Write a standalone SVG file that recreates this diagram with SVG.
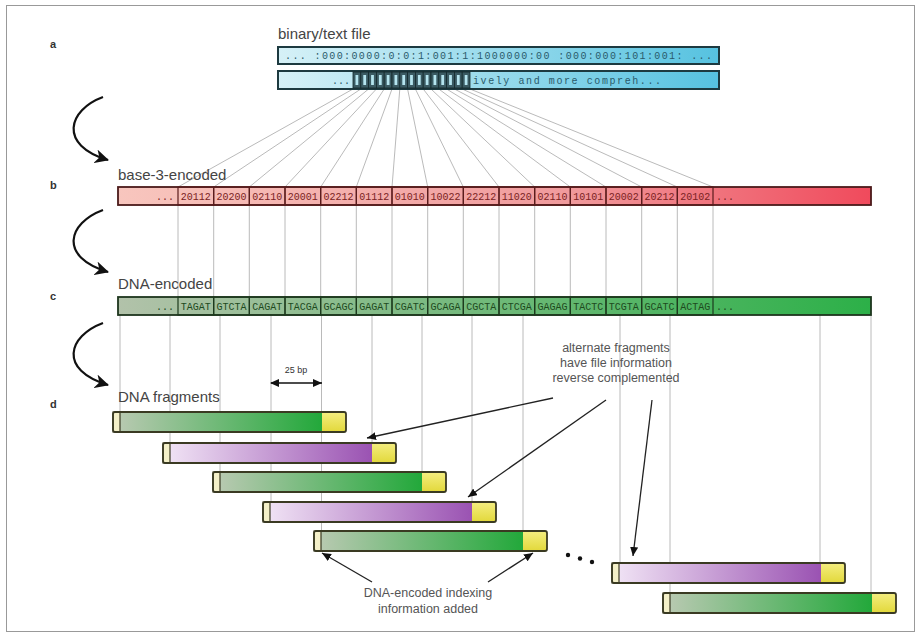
<svg xmlns="http://www.w3.org/2000/svg" width="921" height="636" viewBox="0 0 921 636">
<defs>
<linearGradient id="gBlue" x1="0" y1="0" x2="1" y2="0"><stop offset="0" stop-color="#d6f1f7"/><stop offset="1" stop-color="#56c2e0"/></linearGradient>
<linearGradient id="gRed" x1="0" y1="0" x2="1" y2="0"><stop offset="0" stop-color="#f8c6be"/><stop offset="0.6" stop-color="#f09a9c"/><stop offset="1" stop-color="#f04a5c"/></linearGradient>
<linearGradient id="gDna" x1="0" y1="0" x2="1" y2="0"><stop offset="0" stop-color="#b2c2aa"/><stop offset="1" stop-color="#2cb048"/></linearGradient>
<linearGradient id="gGreen" x1="0" y1="0" x2="1" y2="0"><stop offset="0" stop-color="#bccab4"/><stop offset="0.9" stop-color="#22a83a"/></linearGradient>
<linearGradient id="gPurple" x1="0" y1="0" x2="1" y2="0"><stop offset="0" stop-color="#f2e6f6"/><stop offset="0.9" stop-color="#9a52b2"/></linearGradient>
<linearGradient id="gYel" x1="0" y1="0" x2="0" y2="1"><stop offset="0" stop-color="#f4ee80"/><stop offset="1" stop-color="#e2d83a"/></linearGradient>
<marker id="bigHead" markerUnits="userSpaceOnUse" markerWidth="16" markerHeight="14" refX="13" refY="7" orient="auto"><path d="M0,0 L14,7 L0,14 L4,7 Z" fill="#111"/></marker>
<marker id="head" markerUnits="userSpaceOnUse" markerWidth="10" markerHeight="8" refX="9" refY="4" orient="auto"><path d="M0,0 L9,4 L0,8 Z" fill="#111"/></marker>
<marker id="headStart" markerUnits="userSpaceOnUse" markerWidth="10" markerHeight="8" refX="1" refY="4" orient="auto"><path d="M9,0 L0,4 L9,8 Z" fill="#111"/></marker>
</defs>
<style>
.lbl{font-family:"Liberation Sans",Arial,sans-serif;font-size:15px;fill:#444}
.let{font-family:"Liberation Sans",Arial,sans-serif;font-size:11px;font-weight:bold;fill:#333}
.note{font-family:"Liberation Sans",Arial,sans-serif;font-size:12.5px;fill:#555;text-anchor:middle}
.mono{font-family:"Liberation Mono","Courier New",monospace;font-size:10px}
.bt{fill:#7a2222;text-anchor:middle}
.ct{fill:#1e4a1e;text-anchor:middle}
.thin{stroke:#a8a8a8;stroke-width:0.8;fill:none}
.cell{fill:none;stroke-width:1.2}
.fo{fill:none;stroke:#3a3a22;stroke-width:1.8}
.idx{fill:#f4f0c8;stroke:#3a3a22;stroke-width:1.2}
.yel{fill:url(#gYel)}
.curve{fill:none;stroke:#111;stroke-width:2.2}
.arr{fill:none;stroke:#222;stroke-width:1.3}
</style>
<rect x="6.5" y="5.5" width="908" height="626" fill="#fff" stroke="#999" stroke-width="1"/>

<g id="panel-labels">
<text class="let" x="50" y="48">a</text>
<text class="let" x="50" y="189">b</text>
<text class="let" x="50" y="300">c</text>
<text class="let" x="50" y="408">d</text>
</g>

<g id="connectors">
<!-- fan lines from text cells to base-3 cells -->
<g class="thin">
<line x1="353" y1="89" x2="178" y2="187"/><line x1="360.8" y1="89" x2="213.7" y2="187"/><line x1="368.6" y1="89" x2="249.3" y2="187"/><line x1="376.4" y1="89" x2="285" y2="187"/><line x1="384.2" y1="89" x2="320.7" y2="187"/><line x1="392" y1="89" x2="356.3" y2="187"/><line x1="399.8" y1="89" x2="392" y2="187"/><line x1="407.6" y1="89" x2="427.7" y2="187"/><line x1="415.4" y1="89" x2="463.3" y2="187"/><line x1="423.2" y1="89" x2="499" y2="187"/><line x1="431" y1="89" x2="534.7" y2="187"/><line x1="438.8" y1="89" x2="570.3" y2="187"/><line x1="446.6" y1="89" x2="606" y2="187"/><line x1="454.4" y1="89" x2="641.7" y2="187"/><line x1="462.2" y1="89" x2="677.3" y2="187"/><line x1="470" y1="89" x2="713" y2="187"/>
</g>
<!-- base-3 to DNA -->
<g class="thin">
<line x1="178" y1="205" x2="178" y2="297"/><line x1="213.7" y1="205" x2="213.7" y2="297"/><line x1="249.3" y1="205" x2="249.3" y2="297"/><line x1="285" y1="205" x2="285" y2="297"/><line x1="320.7" y1="205" x2="320.7" y2="297"/><line x1="356.3" y1="205" x2="356.3" y2="297"/><line x1="392" y1="205" x2="392" y2="297"/><line x1="427.7" y1="205" x2="427.7" y2="297"/><line x1="463.3" y1="205" x2="463.3" y2="297"/><line x1="499" y1="205" x2="499" y2="297"/><line x1="534.7" y1="205" x2="534.7" y2="297"/><line x1="570.3" y1="205" x2="570.3" y2="297"/><line x1="606" y1="205" x2="606" y2="297"/><line x1="641.7" y1="205" x2="641.7" y2="297"/><line x1="677.3" y1="205" x2="677.3" y2="297"/><line x1="713" y1="205" x2="713" y2="297"/>
</g>
<!-- DNA to fragments -->
<g class="thin">
<line x1="120" y1="315" x2="120" y2="412"/><line x1="170" y1="315" x2="170" y2="443"/><line x1="220" y1="315" x2="220" y2="472"/><line x1="271" y1="315" x2="271" y2="502"/><line x1="321.5" y1="315" x2="321.5" y2="531"/><line x1="372" y1="315" x2="372" y2="443"/><line x1="422" y1="315" x2="422" y2="472"/><line x1="472" y1="315" x2="472" y2="502"/><line x1="523" y1="315" x2="523" y2="531"/><line x1="620" y1="315" x2="620" y2="563"/><line x1="670" y1="315" x2="670" y2="593"/><line x1="820" y1="315" x2="820" y2="563"/><line x1="871" y1="315" x2="871" y2="593"/>
</g>
<!-- step arrows -->
<path class="curve" d="M103,97 C68,110 58,145 108,160" marker-end="url(#bigHead)"/>
<path class="curve" d="M103,210 C68,223 58,257 108,272" marker-end="url(#bigHead)"/>
<path class="curve" d="M103,323 C68,336 58,370 108,385" marker-end="url(#bigHead)"/>
<!-- 25 bp -->
<line x1="271" y1="383" x2="322" y2="383" stroke="#111" stroke-width="1.5" marker-start="url(#headStart)" marker-end="url(#head)"/>
<!-- annotation arrows -->
<line class="arr" x1="553" y1="398" x2="367" y2="438" marker-end="url(#head)"/>
<line class="arr" x1="606" y1="400" x2="468" y2="497" marker-end="url(#head)"/>
<line class="arr" x1="652" y1="400" x2="633" y2="556" marker-end="url(#head)"/>
<line class="arr" x1="372" y1="582" x2="322" y2="553" marker-end="url(#head)"/>
<line class="arr" x1="488" y1="582" x2="533" y2="553" marker-end="url(#head)"/>
</g>

<g id="binary-file">
<text class="lbl" x="278" y="39">binary/text file</text>
<rect x="278" y="47" width="441" height="17" fill="url(#gBlue)" stroke="#1d3a40" stroke-width="2"/>
<text class="mono" x="285" y="59" fill="#2a5a6a" textLength="427" lengthAdjust="spacing">... :000:0000:0:0:1:001:1:1000000:00 :000:000:101:001: ...</text>
<rect x="278" y="71" width="441" height="18" fill="url(#gBlue)" stroke="#1d3a40" stroke-width="2"/>
<text class="mono" x="332" y="84" fill="#2a5a6a">...</text>
<g fill="#3a5a62" stroke="#14282c" stroke-width="0.8">
<rect x="353" y="72" width="7.8" height="16"/><rect x="360.8" y="72" width="7.8" height="16"/><rect x="368.6" y="72" width="7.8" height="16"/><rect x="376.4" y="72" width="7.8" height="16"/><rect x="384.2" y="72" width="7.8" height="16"/><rect x="392" y="72" width="7.8" height="16"/><rect x="399.8" y="72" width="7.8" height="16"/><rect x="407.6" y="72" width="7.8" height="16"/><rect x="415.4" y="72" width="7.8" height="16"/><rect x="423.2" y="72" width="7.8" height="16"/><rect x="431" y="72" width="7.8" height="16"/><rect x="438.8" y="72" width="7.8" height="16"/><rect x="446.6" y="72" width="7.8" height="16"/><rect x="454.4" y="72" width="7.8" height="16"/><rect x="462.2" y="72" width="7.8" height="16"/>
</g>
<g fill="#b4e4ee">
<rect x="355.5" y="75" width="2.8" height="10"/><rect x="363.3" y="75" width="2.8" height="10"/><rect x="371.1" y="75" width="2.8" height="10"/><rect x="378.9" y="75" width="2.8" height="10"/><rect x="386.7" y="75" width="2.8" height="10"/><rect x="394.5" y="75" width="2.8" height="10"/><rect x="402.3" y="75" width="2.8" height="10"/><rect x="410.1" y="75" width="2.8" height="10"/><rect x="417.9" y="75" width="2.8" height="10"/><rect x="425.7" y="75" width="2.8" height="10"/><rect x="433.5" y="75" width="2.8" height="10"/><rect x="441.3" y="75" width="2.8" height="10"/><rect x="449.1" y="75" width="2.8" height="10"/><rect x="456.9" y="75" width="2.8" height="10"/><rect x="464.7" y="75" width="2.8" height="10"/>
</g>
<text class="mono" x="473" y="84" fill="#2a5a6a" textLength="188" lengthAdjust="spacing">ively and more compreh...</text>
</g>

<g id="base3">
<text class="lbl" x="118" y="180">base-3-encoded</text>
<rect x="118" y="187" width="753" height="18" fill="url(#gRed)" stroke="#4a1a1a" stroke-width="1.8"/>
<g class="cell" stroke="#5a1c1c">
<rect x="178" y="187" width="35.67" height="18"/><rect x="213.67" y="187" width="35.67" height="18"/><rect x="249.33" y="187" width="35.67" height="18"/><rect x="285" y="187" width="35.67" height="18"/><rect x="320.67" y="187" width="35.67" height="18"/><rect x="356.33" y="187" width="35.67" height="18"/><rect x="392" y="187" width="35.67" height="18"/><rect x="427.67" y="187" width="35.67" height="18"/><rect x="463.33" y="187" width="35.67" height="18"/><rect x="499" y="187" width="35.67" height="18"/><rect x="534.67" y="187" width="35.67" height="18"/><rect x="570.33" y="187" width="35.67" height="18"/><rect x="606" y="187" width="35.67" height="18"/><rect x="641.67" y="187" width="35.67" height="18"/><rect x="677.33" y="187" width="35.67" height="18"/>
</g>
<g class="mono bt">
<text x="165" y="200">...</text>
<text x="195.8" y="200">20112</text><text x="231.5" y="200">20200</text><text x="267.2" y="200">02110</text><text x="302.8" y="200">20001</text><text x="338.5" y="200">02212</text><text x="374.2" y="200">01112</text><text x="409.8" y="200">01010</text><text x="445.5" y="200">10022</text><text x="481.2" y="200">22212</text><text x="516.8" y="200">11020</text><text x="552.5" y="200">02110</text><text x="588.2" y="200">10101</text><text x="623.8" y="200">20002</text><text x="659.5" y="200">20212</text><text x="695.2" y="200">20102</text>
<text x="725" y="200">...</text>
</g>
</g>

<g id="dna-encoded">
<text class="lbl" x="118" y="289">DNA-encoded</text>
<rect x="118" y="297" width="753" height="18" fill="url(#gDna)" stroke="#1d351d" stroke-width="1.8"/>
<g class="cell" stroke="#1d3a1d">
<rect x="178" y="297" width="35.67" height="18"/><rect x="213.67" y="297" width="35.67" height="18"/><rect x="249.33" y="297" width="35.67" height="18"/><rect x="285" y="297" width="35.67" height="18"/><rect x="320.67" y="297" width="35.67" height="18"/><rect x="356.33" y="297" width="35.67" height="18"/><rect x="392" y="297" width="35.67" height="18"/><rect x="427.67" y="297" width="35.67" height="18"/><rect x="463.33" y="297" width="35.67" height="18"/><rect x="499" y="297" width="35.67" height="18"/><rect x="534.67" y="297" width="35.67" height="18"/><rect x="570.33" y="297" width="35.67" height="18"/><rect x="606" y="297" width="35.67" height="18"/><rect x="641.67" y="297" width="35.67" height="18"/><rect x="677.33" y="297" width="35.67" height="18"/>
</g>
<g class="mono ct">
<text x="165" y="310">...</text>
<text x="195.8" y="310">TAGAT</text><text x="231.5" y="310">GTCTA</text><text x="267.2" y="310">CAGAT</text><text x="302.8" y="310">TACGA</text><text x="338.5" y="310">GCAGC</text><text x="374.2" y="310">GAGAT</text><text x="409.8" y="310">CGATC</text><text x="445.5" y="310">GCAGA</text><text x="481.2" y="310">CGCTA</text><text x="516.8" y="310">CTCGA</text><text x="552.5" y="310">GAGAG</text><text x="588.2" y="310">TACTC</text><text x="623.8" y="310">TCGTA</text><text x="659.5" y="310">GCATC</text><text x="695.2" y="310">ACTAG</text>
<text x="725" y="310">...</text>
</g>
</g>

<g id="fragments">
<text class="lbl" x="118" y="402">DNA fragments</text>
<text x="296" y="373" font-family="Liberation Sans, Arial, sans-serif" font-size="9" fill="#333" text-anchor="middle">25 bp</text>
<g id="frag1" transform="translate(113,412)"><rect width="233" height="20" fill="url(#gGreen)"/><rect class="yel" x="209" width="24" height="20"/><rect class="idx" width="7" height="20"/><rect class="fo" width="233" height="20" rx="2"/></g>
<g id="frag2" transform="translate(163,443)"><rect width="233" height="20" fill="url(#gPurple)"/><rect class="yel" x="209" width="24" height="20"/><rect class="idx" width="7" height="20"/><rect class="fo" width="233" height="20" rx="2"/></g>
<g id="frag3" transform="translate(213,472)"><rect width="233" height="20" fill="url(#gGreen)"/><rect class="yel" x="209" width="24" height="20"/><rect class="idx" width="7" height="20"/><rect class="fo" width="233" height="20" rx="2"/></g>
<g id="frag4" transform="translate(263,502)"><rect width="233" height="20" fill="url(#gPurple)"/><rect class="yel" x="209" width="24" height="20"/><rect class="idx" width="7" height="20"/><rect class="fo" width="233" height="20" rx="2"/></g>
<g id="frag5" transform="translate(314,531)"><rect width="233" height="20" fill="url(#gGreen)"/><rect class="yel" x="209" width="24" height="20"/><rect class="idx" width="7" height="20"/><rect class="fo" width="233" height="20" rx="2"/></g>
<g id="frag6" transform="translate(612,563)"><rect width="233" height="20" fill="url(#gPurple)"/><rect class="yel" x="209" width="24" height="20"/><rect class="idx" width="7" height="20"/><rect class="fo" width="233" height="20" rx="2"/></g>
<g id="frag7" transform="translate(663,593)"><rect width="233" height="20" fill="url(#gGreen)"/><rect class="yel" x="209" width="24" height="20"/><rect class="idx" width="7" height="20"/><rect class="fo" width="233" height="20" rx="2"/></g>
<g fill="#111"><circle cx="568" cy="555" r="2.2"/><circle cx="580" cy="558.5" r="2.2"/><circle cx="592" cy="562" r="2.2"/></g>
</g>

<g id="notes">
<text class="note" x="616" y="352">alternate fragments</text>
<text class="note" x="616" y="367">have file information</text>
<text class="note" x="616" y="382">reverse complemented</text>
<text class="note" x="428" y="597">DNA-encoded indexing</text>
<text class="note" x="428" y="613">information added</text>
</g>
</svg>
